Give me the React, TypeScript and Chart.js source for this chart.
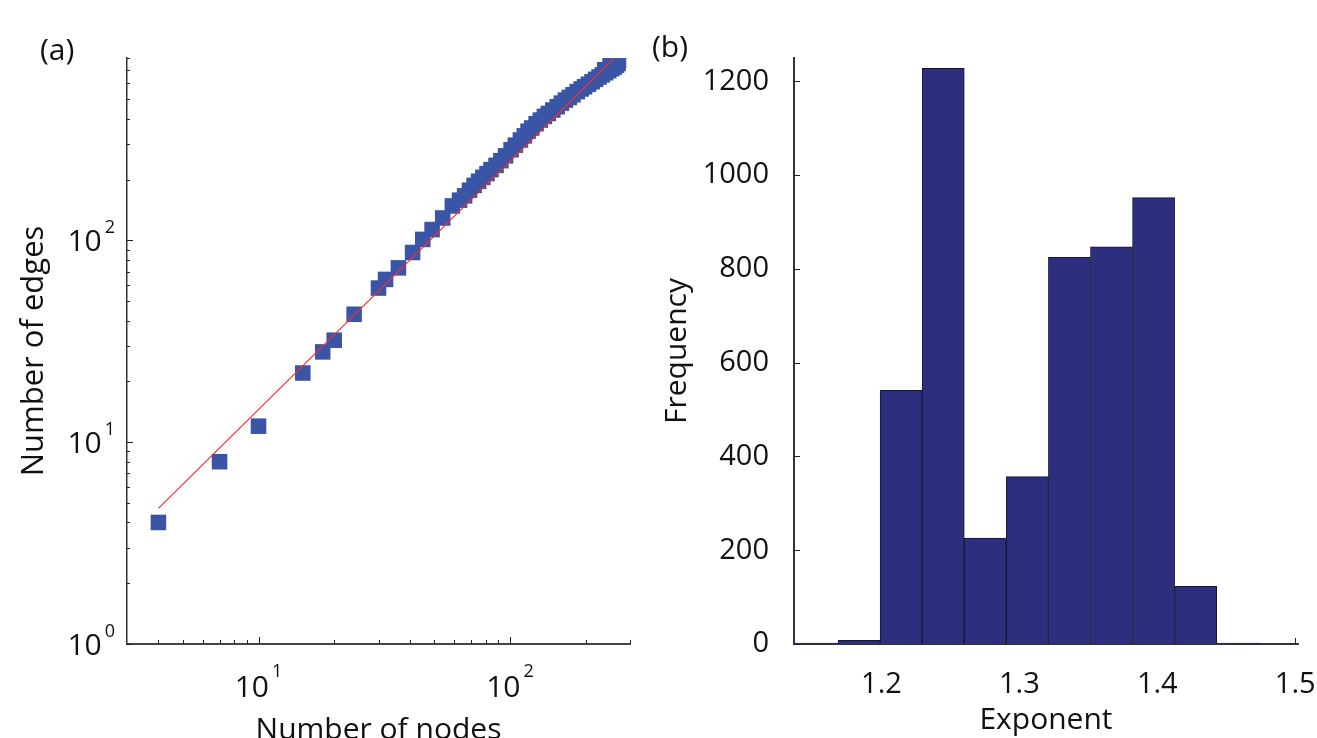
import { useEffect, useRef } from 'react';
import { Chart, registerables } from 'chart.js';

Chart.register(...registerables);

const FONT = '"Open Sans", "DejaVu Sans", sans-serif';
const TEXT = '#111111';

// ---------- Panel (a): edges vs nodes (log-log) ----------
const nodeCounts = [
  4, 7, 10, 15, 18, 20, 24, 30, 32, 36, 41, 45, 49, 54, 59, 63, 66, 69, 72, 75,
  78, 81, 84, 88, 92, 96, 101, 105, 110, 114, 118, 122, 127, 132, 137, 142, 148,
  154, 160, 166, 172, 178, 185, 192, 198, 205, 212, 219, 226, 233, 240, 247, 254,
  260, 265, 269, 238, 250, 262, 270,
];
const edgeCounts = [
  4, 8, 12, 22, 28, 32, 43, 58, 64, 73, 87, 101, 113, 129, 148, 158, 166, 177,
  187, 196, 205, 214, 224, 235, 248, 262, 281, 296, 314, 329, 347, 360, 378, 394,
  411, 425, 442, 459, 478, 495, 510, 526, 545, 562, 576, 593, 610, 627, 644, 660,
  676, 692, 708, 722, 737, 752, 700, 735, 765, 775,
];
const fitNodes = [4, 259];
const fitEdges = [4.7, 794];
const xMajorTicksA = [10, 100];
const xMinorTicksA = [4, 5, 6, 7, 8, 9, 20, 30, 40, 50, 60, 70, 80, 90, 200, 300];
const yMajorTicksA = [1, 10, 100];
const yMinorTicksA = [2, 3, 4, 5, 6, 7, 8, 9, 20, 30, 40, 50, 60, 70, 80, 90, 200, 300, 400, 500, 600, 700, 800];

// ---------- Panel (b): histogram of exponents ----------
const binCenters = [1.1533, 1.1838, 1.2143, 1.2448, 1.2753, 1.3058, 1.3363, 1.3668, 1.3973, 1.4278, 1.4583];
const frequencies = [2, 8, 541, 1228, 226, 357, 825, 847, 952, 123, 2];
const xTicksB = [1.2, 1.3, 1.4, 1.5];
const yTicksB = [0, 200, 400, 600, 800, 1000, 1200];

const line = (ctx: CanvasRenderingContext2D, x1: number, y1: number, x2: number, y2: number) => {
  ctx.beginPath();
  ctx.moveTo(x1, y1);
  ctx.lineTo(x2, y2);
  ctx.stroke();
};

const logDecorPlugin = {
  id: 'logDecor',
  afterDraw(chart: any) {
    const ctx: CanvasRenderingContext2D = chart.ctx;
    const xs = chart.scales.x;
    const ys = chart.scales.y;
    const area = chart.chartArea;
    ctx.save();
    ctx.strokeStyle = '#222';
    ctx.lineWidth = 1;
    xMinorTicksA.forEach((v) => {
      const p = Math.round(xs.getPixelForValue(v)) + 0.5;
      line(ctx, p, area.bottom, p, area.bottom - 4);
    });
    xMajorTicksA.forEach((v) => {
      const p = Math.round(xs.getPixelForValue(v)) + 0.5;
      line(ctx, p, area.bottom, p, area.bottom - 7);
    });
    yMinorTicksA.forEach((v) => {
      const p = Math.round(ys.getPixelForValue(v)) + 0.5;
      line(ctx, area.left, p, area.left + 3, p);
    });
    yMajorTicksA.forEach((v) => {
      const p = Math.round(ys.getPixelForValue(v)) + 0.5;
      line(ctx, area.left, p, area.left + 6, p);
    });

    ctx.fillStyle = TEXT;
    ctx.textBaseline = 'middle';
    ctx.textAlign = 'left';
    const baseFont = `30px ${FONT}`;
    const expFont = `18px ${FONT}`;
    const measure = (exp: string) => {
      ctx.font = baseFont;
      const wb = ctx.measureText('10').width;
      ctx.font = expFont;
      const we = ctx.measureText(exp).width;
      return { wb, we };
    };
    xMajorTicksA.forEach((v) => {
      const exp = String(Math.round(Math.log10(v)));
      const { wb, we } = measure(exp);
      const total = wb + 3 + we;
      const left = xs.getPixelForValue(v) - total / 2;
      ctx.font = baseFont;
      ctx.fillText('10', left, area.bottom + 44);
      ctx.font = expFont;
      ctx.fillText(exp, left + wb + 3, area.bottom + 28);
    });
    yMajorTicksA.forEach((v) => {
      const exp = String(Math.round(Math.log10(v)));
      const { wb, we } = measure(exp);
      const total = wb + 3 + we;
      const left = area.left - 12 - total;
      const p = ys.getPixelForValue(v);
      ctx.font = baseFont;
      ctx.fillText('10', left, p + 2);
      ctx.font = expFont;
      ctx.fillText(exp, left + wb + 3, p - 12.5);
    });
    ctx.restore();
  },
};

const histDecorPlugin = {
  id: 'histDecor',
  beforeDatasetsDraw(chart: any) {
    const ctx: CanvasRenderingContext2D = chart.ctx;
    const xs = chart.scales.x;
    const area = chart.chartArea;
    ctx.save();
    ctx.strokeStyle = '#222';
    ctx.lineWidth = 1;
    xTicksB.forEach((v) => {
      const p = Math.round(xs.getPixelForValue(v)) + 0.5;
      line(ctx, p, area.bottom, p, area.bottom - 6);
    });
    ctx.restore();
  },
  afterDraw(chart: any) {
    const ctx: CanvasRenderingContext2D = chart.ctx;
    const ys = chart.scales.y;
    const area = chart.chartArea;
    ctx.save();
    ctx.strokeStyle = '#222';
    ctx.lineWidth = 1;
    yTicksB.forEach((v) => {
      const p = Math.round(ys.getPixelForValue(v)) + 0.5;
      line(ctx, area.left, p, area.left + 6, p);
    });
    ctx.restore();
  },
};

export default function App() {
  const refA = useRef<HTMLCanvasElement | null>(null);
  const refB = useRef<HTMLCanvasElement | null>(null);

  useEffect(() => {
    if (!refA.current || !refB.current) return;
    const titleFont = { family: FONT, size: 30 };

    const chartA = new Chart(refA.current, {
      type: 'scatter',
      data: {
        datasets: [
          {
            type: 'line',
            data: fitNodes.map((x, i) => ({ x, y: fitEdges[i] })),
            borderColor: '#ff2b2b',
            borderWidth: 1.2,
            pointRadius: 0,
            fill: false,
            order: 0,
          } as any,
          {
            data: nodeCounts.map((x, i) => ({ x, y: edgeCounts[i] })),
            pointStyle: 'rect',
            pointRadius: 11,
            pointHoverRadius: 11,
            backgroundColor: '#3a55a6',
            borderWidth: 0,
            order: 1,
          },
        ],
      },
      options: {
        responsive: false,
        animation: false,
        events: [],
        layout: { padding: { left: 0, right: 20, top: 58, bottom: 0 } },
        plugins: { legend: { display: false }, tooltip: { enabled: false } },
        scales: {
          x: {
            type: 'logarithmic',
            min: 3,
            max: 300,
            grid: { display: false },
            border: { display: true, color: '#444', width: 2 },
            ticks: { display: false },
            title: { display: true, text: 'Number of nodes', font: titleFont, color: TEXT, padding: { top: 0, bottom: 32 } },
            afterFit: (s: any) => { s.height = 136; s.paddingLeft = 0; s.paddingRight = 0; },
          },
          y: {
            type: 'logarithmic',
            min: 1,
            max: 800,
            grid: { display: false },
            border: { display: true, color: '#333', width: 1.5 },
            ticks: { display: false },
            title: { display: true, text: 'Number of edges', font: { family: FONT, size: 31 }, color: TEXT, padding: { top: 16, bottom: 0 } },
            afterFit: (s: any) => { s.width = 127; s.paddingTop = 0; s.paddingBottom = 0; },
          },
        },
      } as any,
      plugins: [logDecorPlugin],
    });

    const chartB = new Chart(refB.current, {
      type: 'bar',
      data: {
        datasets: [
          {
            data: binCenters.map((x, i) => ({ x, y: frequencies[i] })) as any,
            backgroundColor: '#2b2f7e',
            borderColor: '#17172c',
            borderWidth: 1,
            barPercentage: 1,
            categoryPercentage: 1,
          },
        ],
      },
      options: {
        responsive: false,
        animation: false,
        events: [],
        layout: { padding: { left: 0, right: 19, top: 58, bottom: 0 } },
        plugins: { legend: { display: false }, tooltip: { enabled: false } },
        scales: {
          x: {
            type: 'linear',
            min: 1.1366,
            max: 1.502,
            offset: false,
            grid: { display: false },
            border: { display: true, color: '#333', width: 2 },
            afterBuildTicks: (s: any) => { s.ticks = xTicksB.map((v) => ({ value: v })); },
            ticks: {
              font: { family: FONT, size: 29 },
              color: TEXT,
              padding: 15,
              maxRotation: 0,
              autoSkip: false,
              callback: (v: any) => Number(v).toFixed(1),
            },
            title: { display: true, text: 'Exponent', font: titleFont, color: TEXT, padding: { top: 0, bottom: 42 } },
            afterFit: (s: any) => { s.height = 136; s.paddingLeft = 0; s.paddingRight = 0; },
          },
          y: {
            type: 'linear',
            min: 0,
            max: 1250,
            grid: { display: false },
            border: { display: true, color: '#333', width: 2 },
            afterBuildTicks: (s: any) => { s.ticks = yTicksB.map((v) => ({ value: v })); },
            ticks: {
              font: { family: FONT, size: 29 },
              color: TEXT,
              padding: 17,
              autoSkip: false,
              callback: (v: any) => String(v),
            },
            title: { display: true, text: 'Frequency', font: titleFont, color: TEXT, padding: { top: 9, bottom: 0 } },
            afterFit: (s: any) => { s.width = 144; s.paddingTop = 0; s.paddingBottom = 0; },
          },
        },
      } as any,
      plugins: [histDecorPlugin],
    });

    return () => {
      chartA.destroy();
      chartB.destroy();
    };
  }, []);

  const panelLabel: React.CSSProperties = {
    position: 'absolute',
    fontFamily: FONT,
    fontSize: 30,
    lineHeight: '30px',
    color: TEXT,
    margin: 0,
  };

  return (
    <div style={{ position: 'fixed', left: 0, top: 0, width: 1317, height: 738, overflow: 'hidden', background: '#ffffff' }}>
      <canvas ref={refA} width={650} height={780} style={{ position: 'absolute', left: 0, top: 0 }} />
      <canvas ref={refB} width={667} height={780} style={{ position: 'absolute', left: 650, top: 0 }} />
      <div style={{ ...panelLabel, left: 40, top: 34 }}>(a)</div>
      <div style={{ ...panelLabel, left: 652, top: 31 }}>(b)</div>
    </div>
  );
}
